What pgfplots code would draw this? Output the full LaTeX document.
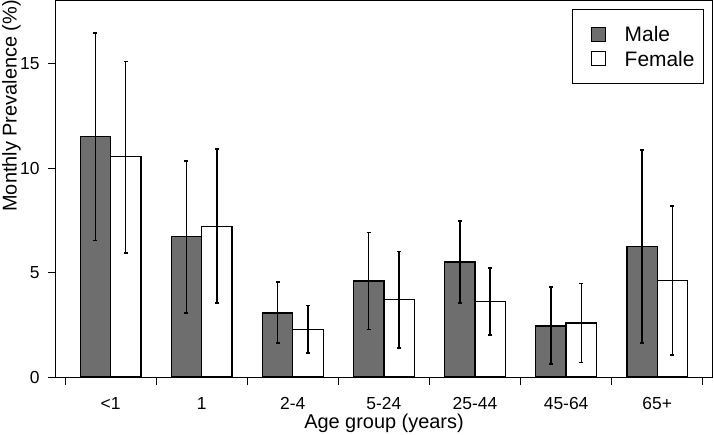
\documentclass[border=0pt]{standalone}
\usepackage{fontspec}
\setmainfont{Liberation Sans}
\usepackage{pgfplots}
\pgfplotsset{compat=1.18}
\usepackage{pgfplotstable}
\definecolor{maleg}{RGB}{110,110,110}

\pgfplotstableread{
x y hi lo
-0.16667 11.50 16.47 6.53
0.83333 6.71 10.35 3.07
1.83333 3.07 4.54 1.63
2.83333 4.59 6.92 2.28
3.83333 5.51 7.47 3.55
4.83333 2.44 4.31 0.62
5.83333 6.26 10.86 1.63
}\maletab

\pgfplotstableread{
x y hi lo
0.16667 10.54 15.11 5.93
1.16667 7.22 10.91 3.55
2.16667 2.28 3.42 1.15
3.16667 3.71 6.02 1.39
4.16667 3.61 5.22 2.01
5.16667 2.59 4.47 0.70
6.16667 4.62 8.18 1.05
}\femaletab

\begin{document}
\begin{tikzpicture}
\begin{axis}[
  scale only axis, width=656bp, height=376bp,
  xmin=-0.5988, xmax=6.6012, ymin=0, ymax=18,
  axis line style={line width=1bp, black},
  xtick={-0.5,0.5,1.5,2.5,3.5,4.5,5.5,6.5},
  x tick label as interval,
  xticklabels={{<1},{1},{2-4},{5-24},{25-44},{45-64},{65+}},
  ytick={0,5,10,15},
  tick align=outside, xtick pos=bottom, ytick pos=left,
  major tick length=8bp,
  tick style={line width=1bp, black},
  /pgf/number format/assume math mode=true,
  xticklabel style={font=\fontsize{17.5}{18}\selectfont, yshift=-9bp},
  yticklabel style={font=\fontsize{17.5}{18}\selectfont, xshift=-5bp},
  xlabel={Age group (years)},
  ylabel={Monthly Prevalence (\%)},
  xlabel style={font=\fontsize{20}{20}\selectfont, at={(axis description cs:0.5,-0.098)}, anchor=north, inner sep=0pt},
  ylabel style={font=\fontsize{20}{20}\selectfont, at={(axis description cs:-0.0823,0.721)}, anchor=north, inner sep=0pt},
  legend style={at={(1,1)}, anchor=north east, xshift=-8bp, yshift=-8bp,
    draw=black, line width=1bp, font=\fontsize{21}{24}\selectfont,
    inner xsep=9bp, inner ysep=14.8bp, row sep=4.3bp,
    nodes={inner xsep=0bp, inner ysep=1bp, text height=16.6bp, text depth=1.4bp},
    /tikz/every odd column/.append style={column sep=19bp}},
  legend cell align=left,
]
\addplot[ybar, bar width=0.3333, bar shift=0pt, fill=maleg, draw=black, line width=1.3bp,
  legend image code/.code={\path (-9bp,0bp); \draw[fill=maleg, draw=black, line width=1.2bp] (0bp,-7bp) rectangle (14bp,7bp);},
  error bars/.cd, y dir=both, y explicit, error mark=|,
  error bar style={line width=1.5bp, black},
  error mark options={mark size=2bp, line width=1.4bp, black}]
  table[x=x, y=y, y error plus expr=\thisrow{hi}-\thisrow{y}, y error minus expr=\thisrow{y}-\thisrow{lo}] {\maletab};
\addlegendentry{Male}
\addplot[ybar, bar width=0.3333, bar shift=0pt, fill=white, draw=black, line width=1.3bp,
  legend image code/.code={\path (-9bp,0bp); \draw[fill=white, draw=black, line width=1.2bp] (0bp,-7bp) rectangle (14bp,7bp);},
  error bars/.cd, y dir=both, y explicit, error mark=|,
  error bar style={line width=1.5bp, black},
  error mark options={mark size=2bp, line width=1.4bp, black}]
  table[x=x, y=y, y error plus expr=\thisrow{hi}-\thisrow{y}, y error minus expr=\thisrow{y}-\thisrow{lo}] {\femaletab};
\addlegendentry{Female}
\end{axis}
\pgfresetboundingbox
\path[use as bounding box] ([xshift=-56bp,yshift=-57bp]current axis.south west) rectangle ([xshift=2bp,yshift=1bp]current axis.north east);
\end{tikzpicture}
\end{document}
